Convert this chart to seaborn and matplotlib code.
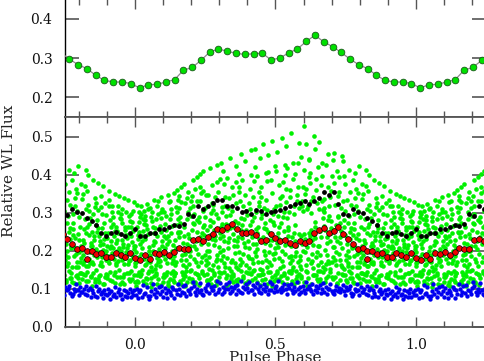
import matplotlib
matplotlib.use('Agg')
import matplotlib.pyplot as plt
import seaborn as sns
import pandas as pd
import numpy as np
from matplotlib.ticker import MultipleLocator, FormatStrFormatter

# top panel: mean pulse profile, 32 phase bins (flux)
top_flux = [0.224, 0.232, 0.233, 0.239, 0.245, 0.269, 0.276, 0.294,
            0.315, 0.323, 0.317, 0.312, 0.309, 0.311, 0.312, 0.295,
            0.300, 0.313, 0.323, 0.342, 0.358, 0.341, 0.329, 0.314,
            0.297, 0.283, 0.273, 0.256, 0.243, 0.239, 0.239, 0.235]

# bottom panel: 58 phase bins
black_flux = [0.257, 0.238, 0.238, 0.247, 0.247, 0.257, 0.258, 0.264, 0.267, 0.266,
              0.270, 0.297, 0.293, 0.317, 0.311, 0.318, 0.327, 0.334, 0.333, 0.317,
              0.319, 0.313, 0.301, 0.306, 0.297, 0.308, 0.306, 0.297, 0.303, 0.306,
              0.308, 0.312, 0.317, 0.323, 0.325, 0.332, 0.324, 0.332, 0.340, 0.354,
              0.347, 0.354, 0.323, 0.297, 0.294, 0.310, 0.302, 0.300, 0.286, 0.279,
              0.268, 0.247, 0.238, 0.247, 0.249, 0.245, 0.240, 0.247]
red_flux = [0.181, 0.176, 0.189, 0.178, 0.194, 0.192, 0.196, 0.188, 0.197, 0.208,
            0.204, 0.205, 0.228, 0.231, 0.226, 0.236, 0.245, 0.258, 0.256, 0.262,
            0.270, 0.257, 0.247, 0.246, 0.249, 0.242, 0.227, 0.229, 0.244, 0.235,
            0.225, 0.229, 0.220, 0.216, 0.226, 0.222, 0.225, 0.247, 0.255, 0.260,
            0.248, 0.253, 0.262, 0.245, 0.231, 0.218, 0.204, 0.208, 0.200, 0.201,
            0.191, 0.194, 0.183, 0.185, 0.194, 0.189, 0.183, 0.194]
red_extra_bin = [48]
red_extra_flux = [0.178]

# individual measurements (flux x 1000), one line per phase bin
green_rows = """
214 117 263 301 172 249 138 288 196 231 321 183 109 275 243 160
133 285 207 178 318 253 226 164 297 121 239 270 192 306 149 219
281 244 112 199 166 309 257 186 232 142 323 211 269 174 125 293
190 302 158 247 128 216 278 335 171 263 105 226 289 201 146 312
259 181 136 296 223 170 318 206 247 114 283 195 164 330 238 152
174 227 301 119 265 188 341 238 160 213 287 139 251 196 309 176
301 144 233 189 272 111 255 328 207 169 291 240 180 347 219 131
226 167 310 124 283 199 247 351 185 265 141 216 332 176 297 108
187 268 143 335 229 301 172 246 118 360 207 283 162 251 316 134
312 177 250 126 290 206 369 164 237 145 328 221 273 188 112 345
240 158 327 201 139 284 176 355 262 219 107 301 192 338 147 376
166 293 214 344 129 255 186 386 233 151 312 274 199 117 330 244
271 204 118 331 178 249 362 161 296 226 141 394 213 282 170 317
193 351 236 146 290 172 401 262 110 218 330 184 277 246 367 137
305 163 268 124 229 347 190 256 409 175 314 140 241 201 289 358
217 281 152 372 199 130 243 325 168 299 418 231 183 113 266 347
164 343 254 189 307 121 228 380 277 173 216 426 143 296 239 320
286 197 131 262 354 176 233 315 159 388 209 271 145 431 247 180
240 318 167 292 203 108 375 256 186 341 225 137 409 271 158 303
181 259 339 126 224 294 155 367 208 445 269 172 313 147 235 391
305 169 244 381 135 278 212 157 348 195 262 422 118 325 230 176
213 356 153 287 237 178 402 254 117 331 198 455 274 162 369 226
170 251 319 144 386 209 283 162 235 436 193 304 128 348 222 267
294 182 227 363 113 268 156 399 245 327 187 466 143 310 208 256
236 149 341 198 278 421 167 257 124 384 219 303 178 469 288 140
187 318 262 153 396 232 136 287 205 354 172 443 248 110 328 219
342 201 124 273 170 312 236 406 151 260 480 189 297 221 139 368
258 145 383 216 307 171 249 120 334 196 452 282 157 230 408 176
164 296 228 137 352 268 191 424 243 311 108 207 489 180 275 387
317 209 148 263 410 182 234 339 125 293 460 156 221 372 246 194
229 381 173 301 135 252 199 427 274 161 345 216 498 142 288 322
192 264 419 145 328 217 286 168 364 238 112 302 476 183 255 399
341 158 236 298 187 431 121 268 213 390 149 317 509 246 176 359
226 368 147 314 198 431 134 245 402 172 330 484 213 119 348 186
187 332 239 412 153 305 218 528 176 367 128 244 447 201 319 161
349 211 164 438 232 318 145 395 196 109 362 247 480 178 309 226
238 173 331 154 406 215 300 137 378 193 254 503 167 342 229 441
276 196 359 148 233 421 183 309 262 126 388 214 467 162 327 241
214 332 171 287 146 397 237 265 189 432 115 308 252 159 373 487
301 189 256 368 153 221 427 173 336 236 128 282 203 454 165 314
167 279 343 210 152 396 246 185 318 132 261 438 226 170 357 292
255 198 322 141 379 227 164 292 209 411 177 344 237 116 268 458
193 312 236 159 354 207 273 136 394 252 175 331 222 449 164 288
281 177 242 333 152 219 376 199 263 123 306 161 398 234 188 437
168 259 355 207 291 143 232 386 183 322 249 157 414 213 130 274
243 319 186 157 274 362 211 138 298 233 406 172 257 192 340 117
305 172 229 375 158 262 196 337 244 141 288 213 422 181 116 352
203 283 166 247 349 138 222 309 190 371 257 160 230 412 174 127
262 180 321 213 161 287 242 131 357 196 271 221 399 168 305 144
172 239 296 151 214 338 189 268 250 126 386 204 165 316 229 107
251 196 308 163 281 227 134 345 185 238 378 171 260 215 118 326
183 274 219 327 161 246 203 139 298 231 370 175 259 192 112 316
295 168 247 207 128 319 186 262 234 358 173 281 214 145 334 199
226 178 302 253 195 137 271 163 319 239 208 349 184 116 288 212
168 247 199 287 228 344 174 131 262 208 317 186 253 149 302 221
285 211 176 243 309 165 132 262 199 339 228 182 274 112 218 296
197 262 234 173 301 143 216 279 186 334 241 121 208 291 165 254
239 183 276 206 146 329 223 168 297 252 191 118 264 213 306 175
"""
green_offsets = [0.06, 0.55, 0.31, 0.82, 0.18, 0.69, 0.43, 0.94,
                 0.12, 0.61, 0.37, 0.88, 0.24, 0.75, 0.49, 0.00]

# faint measurements just above the blue band
green_low_rows = """
121 144
139 112
128 147
116 135
143 125
110 131
137 119
126 148
141 114
122 137
133 118
146 127
115 139
129 143
138 120
124 149
136 111
119 141
145 128
113 134
140 123
127 146
134 116
121 142
147 130
118 137
139 125
112 144
131 120
143 127
117 136
129 148
141 114
125 139
134 119
146 128
113 137
138 122
127 145
119 133
144 126
131 114
123 140
136 118
147 129
115 135
128 142
139 121
120 134
143 117
126 138
114 131
137 124
122 145
132 113
118 140
141 127
125 136
"""
green_low_offsets = [0.28, 0.79]

blue_rows = """
084 101 076 093
097 079 110 088
090 104 082 073
081 095 112 087
099 078 091 105
086 108 094 080
103 089 075 097
092 083 106 099
077 096 088 114
100 085 093 109
089 111 081 096
095 087 102 118
108 093 084 100
091 116 098 086
085 102 094 110
113 090 104 097
098 107 088 121
093 101 115 086
106 092 099 112
100 117 090 104
094 103 109 088
111 097 091 120
089 105 100 114
102 093 118 096
097 110 087 104
115 099 092 107
090 101 113 095
104 088 098 119
096 112 091 102
108 094 122 099
092 105 097 114
099 087 110 103
113 096 090 106
094 117 101 088
105 092 109 098
090 119 100 107
101 094 112 086
096 108 091 103
110 089 099 116
093 104 087 101
100 113 095 090
087 097 108 094
102 091 099 111
095 085 106 098
099 108 090 082
088 101 094 112
097 083 105 092
091 100 086 109
085 096 103 079
098 089 081 107
080 094 101 088
092 077 098 086
083 099 090 074
095 081 087 104
078 092 099 085
088 074 096 082
094 080 089 101
079 091 085 097
"""
blue_offsets = [0.10, 0.35, 0.60, 0.85]

NBIN = 58


def fold(df):
    # repeat one cycle so that phases -0.25 .. 1.25 are covered
    return pd.concat([df.assign(phase=df['phase'] + s) for s in (-1, 0, 1)],
                     ignore_index=True)


def table(rows, offsets):
    recs = []
    for k, line in enumerate(rows.strip().splitlines()):
        for off, v in zip(offsets, line.split()):
            recs.append({'phase': (k + off) / NBIN, 'flux': int(v) / 1000})
    return fold(pd.DataFrame(recs))


green = pd.concat([table(green_rows, green_offsets),
                   table(green_low_rows, green_low_offsets)], ignore_index=True)
blue = table(blue_rows, blue_offsets)
black = fold(pd.DataFrame({'phase': np.arange(NBIN) / NBIN, 'flux': black_flux}))
red = fold(pd.DataFrame({'phase': np.r_[np.arange(NBIN), red_extra_bin] / NBIN,
                         'flux': red_flux + red_extra_flux}))
top = fold(pd.DataFrame({'phase': (np.arange(32) + 0.5) / 32, 'flux': top_flux}))

sns.set_style('ticks')
plt.rcParams['font.family'] = ['DejaVu Serif']

fig = plt.figure(figsize=(4.85, 3.61), dpi=100)
ax1 = fig.add_axes([65 / 485, 1 - 117 / 361, 421 / 485, 118 / 361])
ax2 = fig.add_axes([65 / 485, 34 / 361, 421 / 485, 210 / 361])

sns.lineplot(data=top, x='phase', y='flux', ax=ax1, color='#8c8c8c', lw=0.9,
             marker='o', markersize=4.8, markerfacecolor='#00e000',
             markeredgecolor='#1a5a1a', markeredgewidth=0.6, zorder=3)

sns.scatterplot(data=green, x='phase', y='flux', ax=ax2, color='#00f000',
                s=11, linewidth=0, zorder=2)
sns.scatterplot(data=blue, x='phase', y='flux', ax=ax2, color='#0000f0',
                s=10, linewidth=0, zorder=3)
sns.scatterplot(data=black, x='phase', y='flux', ax=ax2, color='black',
                s=12, linewidth=0, zorder=4)
sns.scatterplot(data=red, x='phase', y='flux', ax=ax2, color='#ee0000',
                s=17, edgecolor='black', linewidth=0.5, zorder=5)

ax1.set_ylim(0.15, 0.45)
ax2.set_ylim(0.0, 0.552)
for ax in (ax1, ax2):
    ax.set_xlim(-0.25, 1.25)
    ax.set_xlabel('')
    ax.set_ylabel('')
    ax.xaxis.set_major_locator(MultipleLocator(0.5))
    ax.xaxis.set_minor_locator(MultipleLocator(0.1))
    ax.yaxis.set_major_locator(MultipleLocator(0.1))
    ax.xaxis.set_major_formatter(FormatStrFormatter('%.1f'))
    ax.yaxis.set_major_formatter(FormatStrFormatter('%.1f'))
    ax.tick_params(which='both', direction='in', top=True, right=True,
                   colors='#555555', labelcolor='#111111', labelsize=10)
    ax.tick_params(axis='x', which='major', length=7, width=1, pad=8)
    ax.tick_params(axis='x', which='minor', length=4, width=1)
    ax.tick_params(axis='y', which='major', length=10, width=1.2, pad=9)
    for sp in ax.spines.values():
        sp.set_color('#555555')
        sp.set_linewidth(1.3)
    ax.spines['left'].set_color('black')
    ax.spines['left'].set_linewidth(1.0)

ax1.set_yticks([0.2, 0.3, 0.4])
ax1.tick_params(axis='x', labelbottom=False)

fig.text(9 / 485, 0.526, 'Relative WL Flux', rotation=90, ha='center',
         va='center', fontsize=11, color='#222222')
fig.text(275 / 485, 9.5 / 361, 'Pulse Phase', ha='center', va='top',
         fontsize=11, color='#222222')

fig.savefig('out.png', dpi=100)
